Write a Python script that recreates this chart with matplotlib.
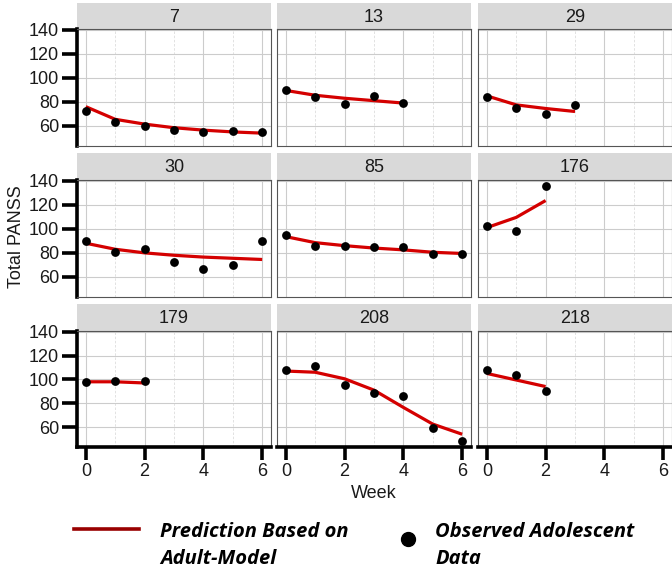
import matplotlib

matplotlib.use("Agg")
import matplotlib.pyplot as plt
from matplotlib.lines import Line2D

# subject ids, one facet each
subjects = ["7", "13", "29", "30", "85", "176", "179", "208", "218"]

# observed adolescent total PANSS by week
observed = {
    "7": [72, 63, 60, 57, 55, 56, 55],
    "13": [90, 84, 78, 85, 79],
    "29": [84, 75, 70, 77],
    "30": [89.5, 81, 83, 72, 66.5, 69.5, 90],
    "85": [95, 86, 86, 84.5, 85, 79, 79],
    "176": [102, 98, 135.5],
    "179": [97.5, 98.5, 98.5],
    "208": [107.5, 111, 95, 88.5, 86, 59.5, 48],
    "218": [108, 104, 90],
}

# prediction based on adult model
predicted = {
    "7": [76, 65.5, 61.5, 58.5, 56.5, 55, 54],
    "13": [89.5, 85.5, 83, 81, 79],
    "29": [85, 77.5, 74.5, 72],
    "30": [88, 83, 80, 78, 76.5, 75.5, 74.5],
    "85": [93.5, 88.5, 86, 84, 82.5, 80.5, 79.5],
    "176": [101, 109.5, 123.5],
    "179": [98, 98, 97],
    "208": [107, 106, 100.5, 91, 76.5, 62.5, 54],
    "218": [105, 99.5, 94],
}

y_ticks = [60, 80, 100, 120, 140]
x_ticks = [0, 2, 4, 6]

W, H = 672, 570
cols = [(77, 271), (277, 471), (478, 672)]
rows = [(3, 29, 146), (153, 180, 297), (304, 331, 447)]


def rect(x0, y0, x1, y1):
    return [x0 / W, 1 - y1 / H, (x1 - x0) / W, (y1 - y0) / H]


plt.rcParams["font.family"] = ["Liberation Sans", "DejaVu Sans"]
fig = plt.figure(figsize=(W / 100, H / 100), dpi=100)

for i, sid in enumerate(subjects):
    r, c = divmod(i, 3)
    x0, x1 = cols[c]
    st, sb, pb = rows[r]

    strip = fig.add_axes(rect(x0, st, x1, sb))
    strip.set_facecolor("#d9d9d9")
    strip.set_xticks([])
    strip.set_yticks([])
    for s in strip.spines.values():
        s.set_visible(False)
    strip.text(0.5, 0.45, sid, ha="center", va="center", fontsize=13, color="#1a1a1a",
               transform=strip.transAxes)

    ax = fig.add_axes(rect(x0, sb, x1, pb))
    obs = observed[sid]
    pred = predicted[sid]
    ax.plot(range(len(pred)), pred, color="#d40000", lw=2.3, zorder=3, solid_capstyle="butt")
    ax.scatter(range(len(obs)), obs, s=40, color="black", zorder=4, linewidths=0)

    ax.set_xlim(-0.3, 6.3)
    ax.set_ylim(43.3, 140.6)
    ax.set_xticks(x_ticks)
    ax.set_xticks([1, 3, 5], minor=True)
    ax.set_yticks(y_ticks)
    ax.grid(which="major", color="#cccccc", lw=0.8)
    ax.grid(which="minor", axis="x", color="#dddddd", lw=0.6, ls=(0, (3, 2)))
    ax.set_axisbelow(True)
    for s in ax.spines.values():
        s.set_color("#555555")
        s.set_linewidth(0.8)

    ax.tick_params(which="minor", length=0)
    ax.tick_params(which="major", length=0, labelsize=13, labelcolor="#1a1a1a")
    if c == 0:
        ax.spines["left"].set_color("black")
        ax.spines["left"].set_linewidth(2.6)
        ax.tick_params(axis="y", length=10.5, width=2.6, color="black", pad=2.5)
    else:
        ax.set_yticklabels([])
    if r == 2:
        ax.spines["bottom"].set_color("black")
        ax.spines["bottom"].set_linewidth(2.6)
        ax.tick_params(axis="x", length=9.5, width=2.6, color="black", pad=2)
    else:
        ax.set_xticklabels([])

fig.text(17 / W, 1 - 237 / H, "Total PANSS", rotation=90, ha="center", va="center",
         fontsize=13, color="#1a1a1a")
fig.text(374 / W, 1 - 493 / H, "Week", ha="center", va="center", fontsize=13, color="#1a1a1a")

# legend drawn in figure pixels
leg_font = dict(family=["Open Sans", "DejaVu Sans"], fontweight="bold", fontstyle="italic",
                fontsize=14.5, color="black", va="baseline", ha="left")
fig.add_artist(Line2D([74 / W, 139 / W], [1 - 529 / H, 1 - 529 / H], color="#990000", lw=2.6))
fig.text(160 / W, 1 - 537 / H, "Prediction Based on", **leg_font)
fig.text(160 / W, 1 - 564 / H, "Adult-Model", **leg_font)
fig.add_artist(Line2D([408 / W], [1 - 539 / H], marker="o", color="black", markersize=10, lw=0))
fig.text(435 / W, 1 - 537 / H, "Observed Adolescent", **leg_font)
fig.text(435 / W, 1 - 564 / H, "Data", **leg_font)

fig.savefig("out.png", dpi=100)
